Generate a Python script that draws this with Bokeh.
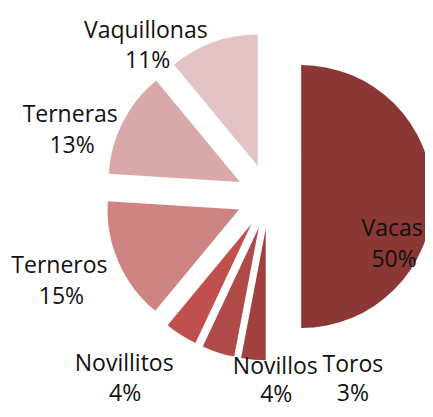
import math
from bokeh.plotting import figure
from bokeh.models import Range1d, ColumnDataSource
from bokeh.core.properties import value
from bokeh.embed import file_html
from bokeh.resources import INLINE

# ---- data ----
categories = ["Vacas", "Toros", "Novillos", "Novillitos", "Terneros", "Terneras", "Vaquillonas"]
shares = [50, 3, 4, 4, 15, 13, 11]
colors = ["#8A3736", "#A0413F", "#B04A48", "#C0504D", "#CD8482", "#D9A8A8", "#E3C4C5"]

# label anchors (name line / percent line), in plot pixel units, y up
name_pos = [(391.6, 182.8), (352.4, 47.0), (274.8, 45.0), (123.7, 48.0), (58.9, 145.9), (69.7, 296.3), (145.3, 380.3)]
pct_pos = [(393.6, 151.4), (352.4, 17.5), (275.8, 17.0), (124.7, 17.5), (60.9, 114.8), (71.6, 265.2), (147.2, 350.2)]

# ---- layout ----
W, H = 425, 409
cx, cy = 268.3, 212.9
R = 131.5
explode = 32.4

total = float(sum(shares))
xs, ys, starts, ends = [], [], [], []
a0 = math.pi / 2
for s in shares:
    sweep = s / total * 2 * math.pi
    a1 = a0 - sweep
    b = (a0 + a1) / 2
    xs.append(cx + explode * math.cos(b))
    ys.append(cy + explode * math.sin(b))
    starts.append(a1)
    ends.append(a0)
    a0 = a1

src = ColumnDataSource(dict(x=xs, y=ys, start=starts, end=ends, color=colors, cat=categories))

p = figure(width=W, height=H, output_backend="svg", toolbar_location=None,
           x_range=Range1d(0, W), y_range=Range1d(0, H), min_border=0,
           background_fill_color="white", border_fill_color="white")
p.axis.visible = False
p.grid.visible = False
p.outline_line_color = None

p.wedge(x="x", y="y", radius=R, start_angle="start", end_angle="end",
        direction="anticlock", fill_color="color", line_color=None, source=src)

lab = ColumnDataSource(dict(
    nx=[q[0] for q in name_pos], ny=[q[1] for q in name_pos],
    px=[q[0] for q in pct_pos], py=[q[1] for q in pct_pos],
    name=categories, pct=["%d%%" % s for s in shares]))

p.text(x="nx", y="ny", text="name", source=lab, text_font=value("Open Sans"),
       text_font_size="23px", text_align="center", text_baseline="alphabetic",
       text_color="#111111")
p.text(x="px", y="py", text="pct", source=lab, text_font=value("Open Sans"),
       text_font_size="23px", text_align="center", text_baseline="alphabetic",
       text_color="#111111")

open("out.html", "w").write(file_html(p, INLINE))
